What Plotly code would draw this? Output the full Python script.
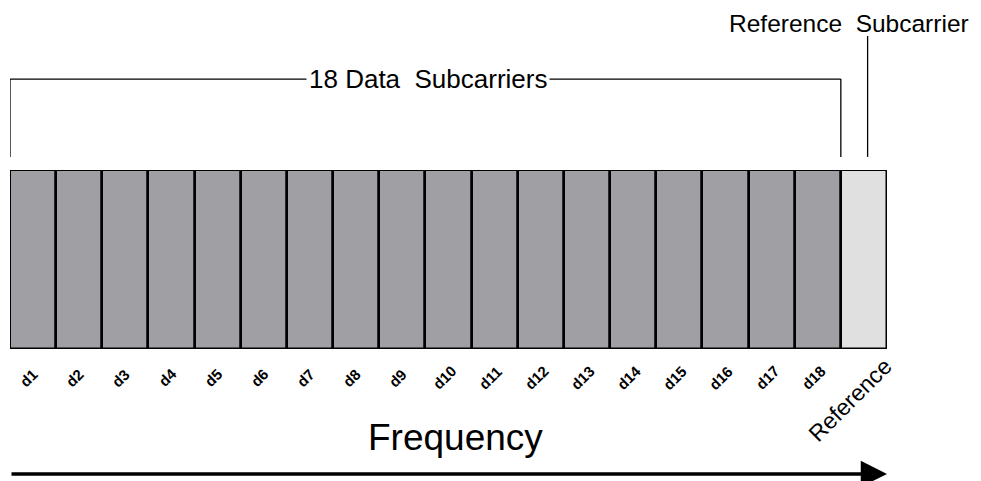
import plotly.graph_objects as go

# subcarrier categories and bar heights (all equal)
subcarriers = [f"d{i}" for i in range(1, 19)] + ["Reference"]
heights = [1] * 19
fills = ["#a09fa4"] * 18 + ["#e0e0e0"]

FONT = "Liberation Sans, Arial"

fig = go.Figure()

fig.add_trace(go.Bar(
    x=subcarriers,
    y=heights,
    width=1,
    marker=dict(color=fills, line=dict(color="black", width=2.5)),
    hoverinfo="skip",
))

# rotated labels under each bar
annotations = []
for name in subcarriers:
    if name == "Reference":
        annotations.append(dict(
            x=name, y=-0.285, xref="x", yref="paper", text=name,
            textangle=-45, showarrow=False, xshift=-14,
            xanchor="center", yanchor="middle",
            font=dict(family=FONT, size=23, color="black"),
        ))
    else:
        annotations.append(dict(
            x=name, y=-0.162, xref="x", yref="paper", text=f"<b>{name}</b>",
            textangle=-45, showarrow=False, xshift=-4,
            xanchor="center", yanchor="middle",
            font=dict(family=FONT, size=15, color="black"),
        ))

annotations += [
    dict(x=(427.5 - 10) / 877, xref="paper", y=1.508, yref="paper",
         xanchor="center", yanchor="middle",
         text="18 Data  Subcarriers", showarrow=False, bgcolor="white", borderpad=2,
         font=dict(family=FONT, size=26, color="black")),
    dict(x=(970 - 10) / 877, xref="paper", y=(349 - 23) / 179, yref="paper",
         xanchor="right", yanchor="middle", borderpad=0,
         text="Reference  Subcarrier", showarrow=False,
         font=dict(family=FONT, size=24.5, color="black")),
    dict(x=(455.5 - 10) / 877, xref="paper", y=-0.497, yref="paper",
         xanchor="center", yanchor="middle", text="Frequency",
         showarrow=False,
         font=dict(family=FONT, size=37, color="black")),
    dict(x=1.0, y=-0.698, xref="x domain", yref="y domain",
         ax=0, ay=-0.698, axref="x domain", ayref="y domain",
         text="", showarrow=True, arrowhead=2, arrowsize=1.5,
         arrowwidth=3.5, arrowcolor="black"),
]

shapes = [
    # bracket over the data subcarriers
    dict(type="line", xref="x", yref="paper", x0=-0.5, x1=-0.5, y0=1.073, y1=1.508,
         line=dict(color="black", width=1.3)),
    dict(type="line", xref="x", yref="paper", x0=-0.5, x1=17.5, y0=1.508, y1=1.508,
         line=dict(color="black", width=1.3)),
    dict(type="line", xref="x", yref="paper", x0=17.5, x1=17.5, y0=1.073, y1=1.508,
         line=dict(color="black", width=1.3)),
    # pointer to the reference subcarrier
    dict(type="line", xref="x", yref="paper", x0=18.08, x1=18.08, y0=1.073, y1=1.749,
         line=dict(color="black", width=1.3)),
]

# page body has an 8px margin, so the figure is a bit smaller than the window
fig.update_layout(
    width=973,
    height=473,
    margin=dict(l=2, r=94, t=162, b=132),
    plot_bgcolor="white",
    paper_bgcolor="white",
    showlegend=False,
    bargap=0,
    xaxis=dict(visible=False, range=[-0.5, 18.5]),
    yaxis=dict(visible=False, range=[0, 1]),
    annotations=annotations,
    shapes=shapes,
)

fig.write_html("out.html")
